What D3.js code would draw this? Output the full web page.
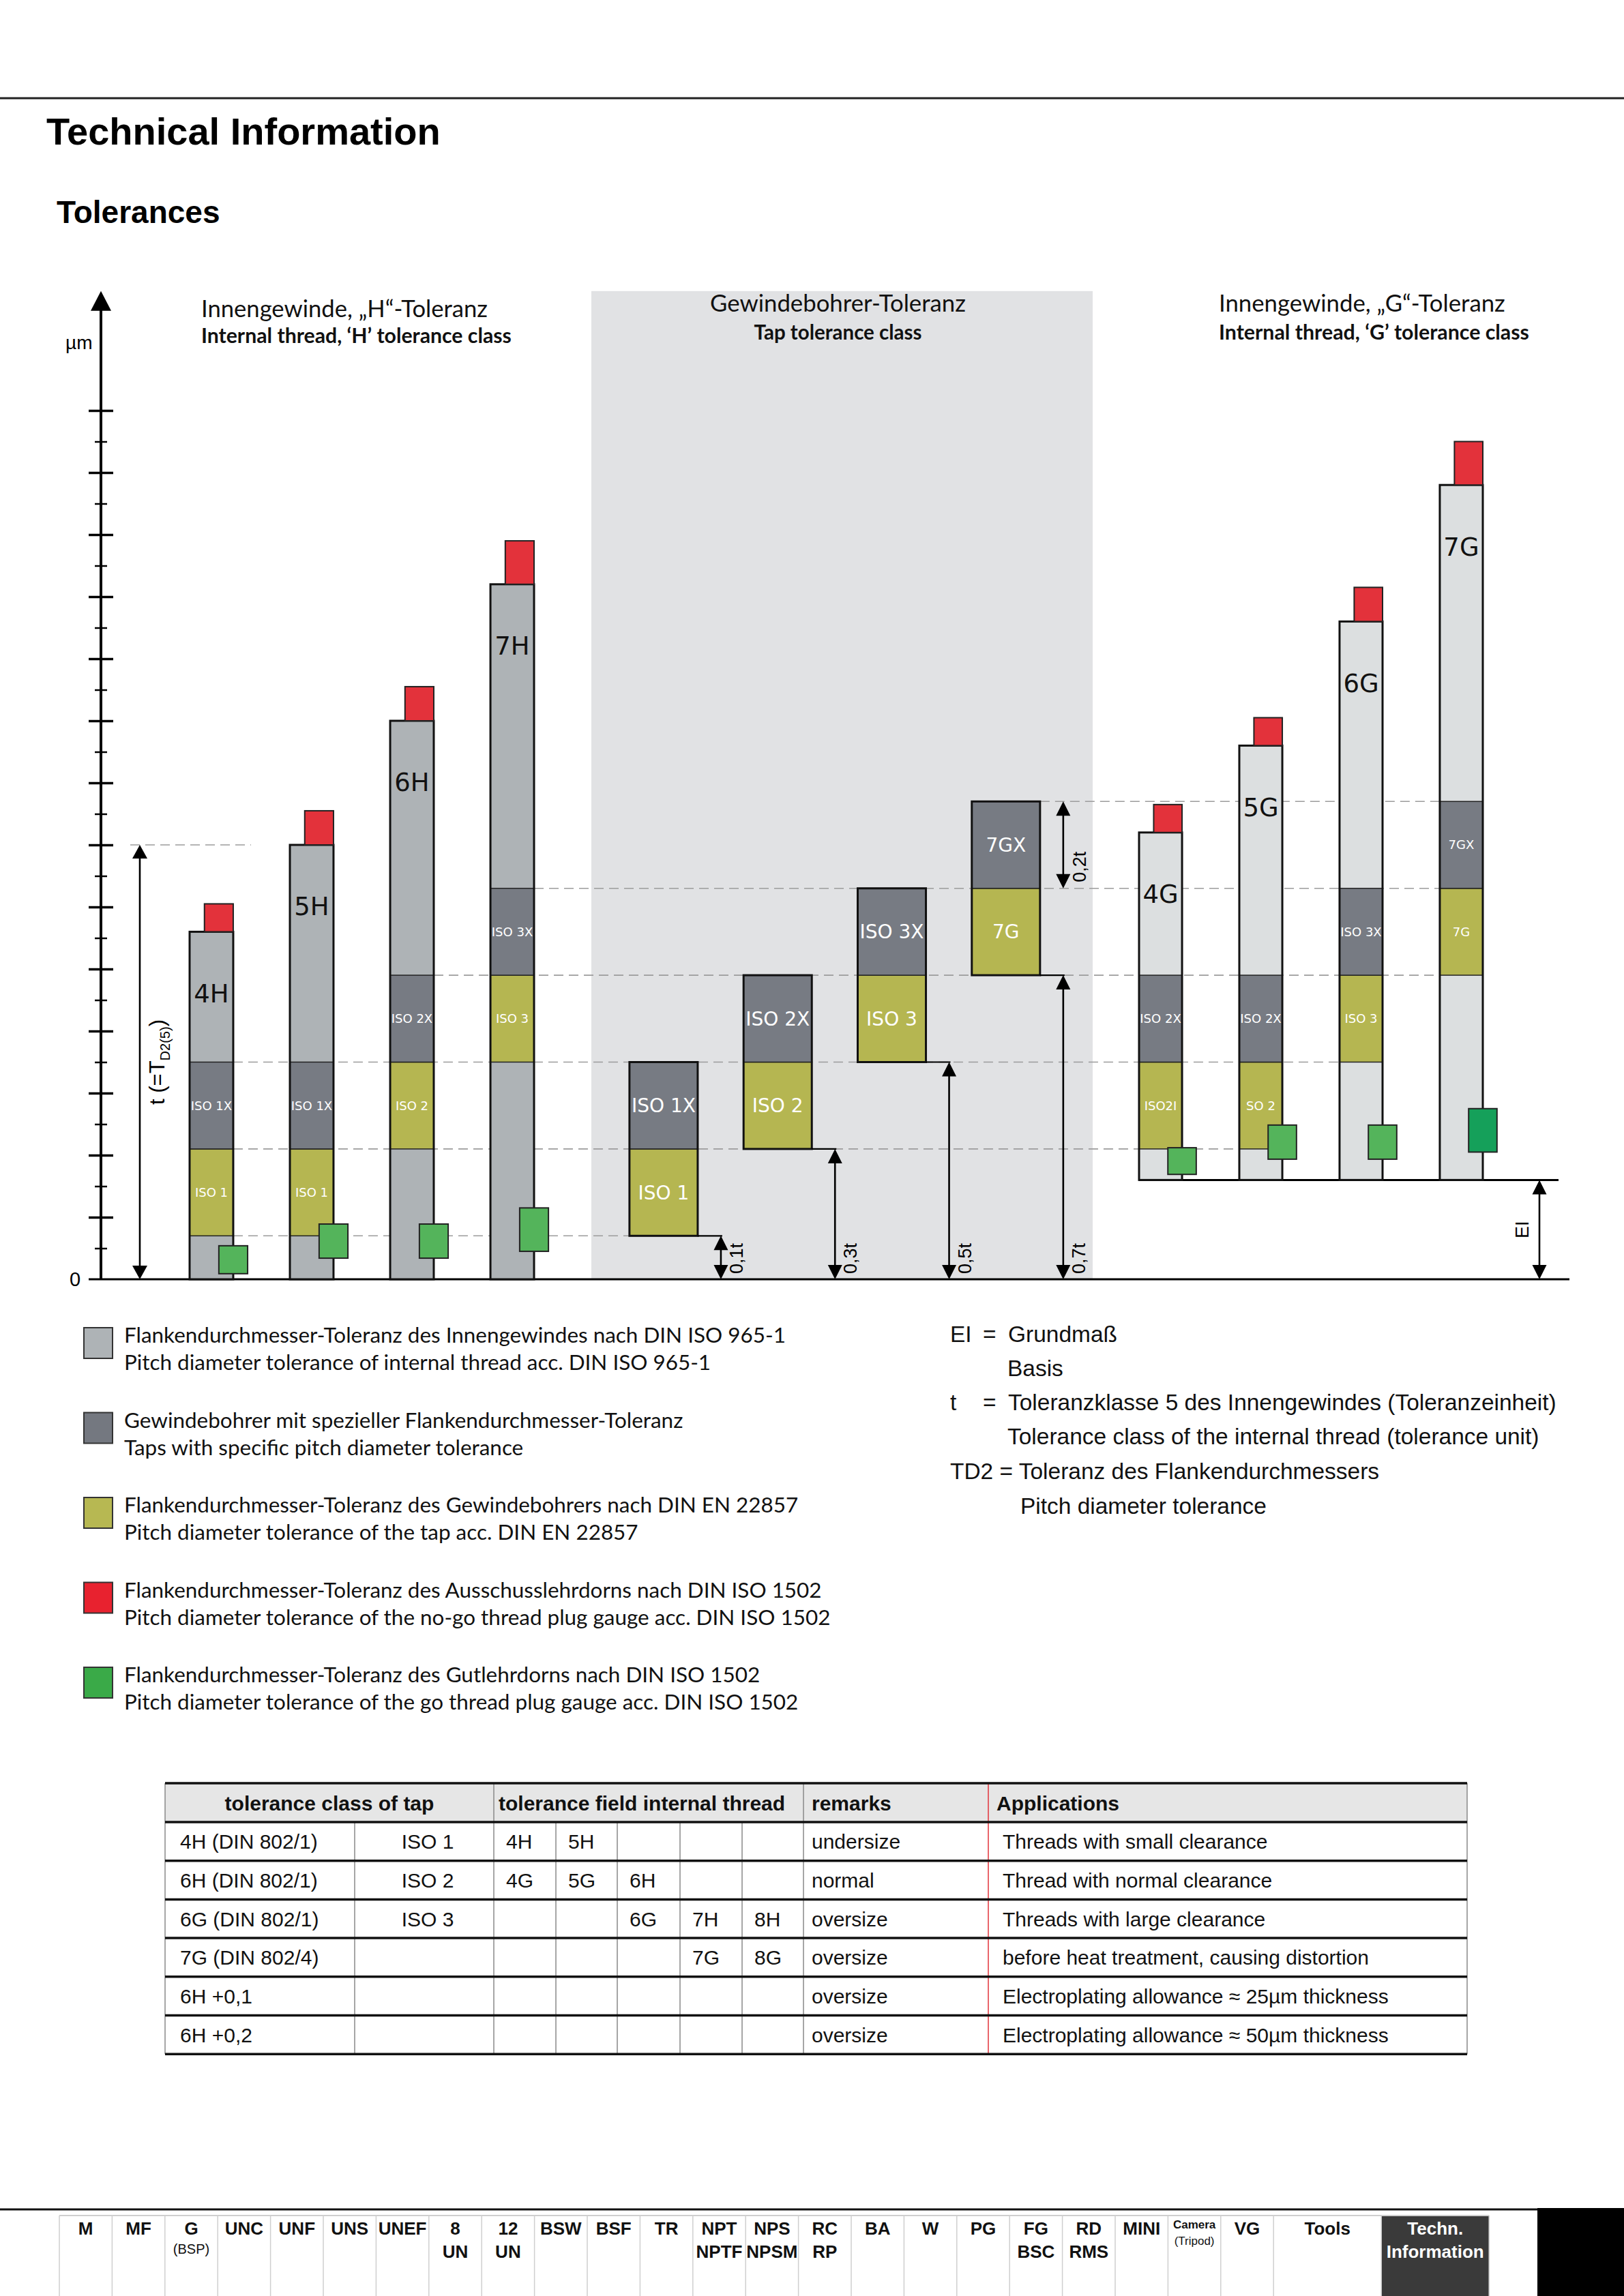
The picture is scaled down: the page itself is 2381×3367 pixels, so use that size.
<!DOCTYPE html>
<html>
<head>
<meta charset="utf-8">
<title>Tolerances</title>
<script src="https://cdn.jsdelivr.net/npm/d3@7"></script>
<style>
  body { margin: 0; background: #fff; }
  svg { display: block; }
</style>
</head>
<body>
<script>
// ---------- data (axis units: t = 14) ----------
const T = 14;      // tolerance unit t
const EI = 3.2;    // basic deviation of the G field

const hClasses = ['4H', '5H', '6H', '7H'];
const hTop = [11.2, 14.0, 18.0, 22.4];
const hTapIdx = [0, 0, 1, 2];
const hTapLabels = ['ISO 1', 'ISO 1', 'ISO 2', 'ISO 3'];
const hTapXLabels = ['ISO 1X', 'ISO 1X', 'ISO 2X', 'ISO 3X'];
const hNoGo = [[11.2, 12.1], [14.0, 15.1], [18.0, 19.1], [22.4, 23.8]];
const hGo = [[0.18, 1.08], [0.68, 1.78], [0.68, 1.78], [0.9, 2.3]];

const gClasses = ['4G', '5G', '6G', '7G'];
const gTop = [14.4, 17.2, 21.2, 25.6];
const gTapIdx = [1, 1, 2, 3];
const gTapLabels = ['ISO2I', 'SO 2', 'ISO 3', '7G'];
const gTapXLabels = ['ISO 2X', 'ISO 2X', 'ISO 3X', '7GX'];
const gNoGo = [[14.4, 15.3], [17.2, 18.1], [21.2, 22.3], [25.6, 27.0]];
const gGo = [[3.38, 4.24], [3.87, 4.97], [3.87, 4.97], [4.1, 5.5]];

const tapClasses = ['ISO 1', 'ISO 2', 'ISO 3', '7G'];
const tapXClasses = ['ISO 1X', 'ISO 2X', 'ISO 3X', '7GX'];
const tapLow = [1.4, 4.2, 7.0, 9.8];
const tapMid = [4.2, 7.0, 9.8, 12.6];
const tapHigh = [7.0, 9.8, 12.6, 15.4];
const tapArrowLabels = ['0,1t', '0,3t', '0,5t', '0,7t'];

const majorTicks = [2, 4, 6, 8, 10, 12, 14, 16, 18, 20, 22, 24, 26, 28];
const minorTicks = [1, 3, 5, 7, 9, 11, 13, 15, 17, 19, 21, 23, 25, 27];

const legendDe = [
  'Flankendurchmesser-Toleranz des Innengewindes nach DIN ISO 965-1',
  'Gewindebohrer mit spezieller Flankendurchmesser-Toleranz',
  'Flankendurchmesser-Toleranz des Gewindebohrers nach DIN EN 22857',
  'Flankendurchmesser-Toleranz des Ausschusslehrdorns nach DIN ISO 1502',
  'Flankendurchmesser-Toleranz des Gutlehrdorns nach DIN ISO 1502'
];
const legendEn = [
  'Pitch diameter tolerance of internal thread acc. DIN ISO 965-1',
  'Taps with specific pitch diameter tolerance',
  'Pitch diameter tolerance of the tap acc. DIN EN 22857',
  'Pitch diameter tolerance of the no-go thread plug gauge acc. DIN ISO 1502',
  'Pitch diameter tolerance of the go thread plug gauge acc. DIN ISO 1502'
];

const keyTerms = ['EI', 't', 'TD2'];
const keyDe = ['Grundmaß', 'Toleranzklasse 5 des Innengewindes (Toleranzeinheit)', 'Toleranz des Flankendurchmessers'];
const keyEn = ['Basis', 'Tolerance class of the internal thread (tolerance unit)', 'Pitch diameter tolerance'];

const tableHead = ['tolerance class of tap', 'tolerance field internal thread', 'remarks', 'Applications'];
const tapClassCol = ['4H (DIN 802/1)', '6H (DIN 802/1)', '6G (DIN 802/1)', '7G (DIN 802/4)', '6H +0,1', '6H +0,2'];
const tapIsoCol = ['ISO 1', 'ISO 2', 'ISO 3', '', '', ''];
const fieldCols = [
  ['4H', '5H', '', '', ''],
  ['4G', '5G', '6H', '', ''],
  ['', '', '6G', '7H', '8H'],
  ['', '', '', '7G', '8G'],
  ['', '', '', '', ''],
  ['', '', '', '', '']
];
const remarksCol = ['undersize', 'normal', 'oversize', 'oversize', 'oversize', 'oversize'];
const applicationsCol = [
  'Threads with small clearance',
  'Thread with normal clearance',
  'Threads with large clearance',
  'before heat treatment, causing distortion',
  'Electroplating allowance ≈ 25µm thickness',
  'Electroplating allowance ≈ 50µm thickness'
];

const navTop = ['M', 'MF', 'G', 'UNC', 'UNF', 'UNS', 'UNEF', '8', '12', 'BSW', 'BSF', 'TR', 'NPT', 'NPS', 'RC', 'BA', 'W', 'PG', 'FG', 'RD', 'MINI', 'Camera', 'VG', 'Tools', 'Techn.'];
const navBottom = ['', '', '(BSP)', '', '', '', '', 'UN', 'UN', '', '', '', 'NPTF', 'NPSM', 'RP', '', '', '', 'BSC', 'RMS', '', '(Tripod)', '', '', 'Information'];

// ---------- styles ----------
const C = {
  light: '#aeb3b6', dark: '#777b83', olive: '#b5b651', red: '#e3323b',
  green: '#54b45b', green2: '#15a05a', gLight: '#dcdfe0', band: '#e1e2e4', guide: '#9c9c9c'
};
const fontArial = '"Liberation Sans", Arial, sans-serif';
const fontMyriad = 'Lato, "Open Sans", sans-serif';
const fontChart = '"DejaVu Sans", sans-serif';

const width = 2381, height = 3367;
const svg = d3.select('body').append('svg')
  .attr('width', width).attr('height', height);

function fitWidth(sel, w) {
  sel.each(function() {
    const t = d3.select(this);
    const fs = parseFloat(t.attr('font-size'));
    t.attr('font-size', fs * w / this.getComputedTextLength());
  });
}

// ---------- page header ----------
svg.append('line').attr('x1', 0).attr('x2', width).attr('y1', 144).attr('y2', 144)
  .attr('stroke', '#222').attr('stroke-width', 3);
svg.append('text').attr('x', 68).attr('y', 212).attr('font-family', fontArial)
  .attr('font-weight', 'bold').attr('font-size', 56).text('Technical Information');
svg.append('text').attr('x', 83).attr('y', 327).attr('font-family', fontArial)
  .attr('font-weight', 'bold').attr('font-size', 46).text('Tolerances');

// ---------- scales ----------
const chartTop = 31.85;
const y = d3.scaleLinear().domain([0, T]).range([1876, 1239]);
const xH = d3.scaleBand().domain(hClasses).range([278, 783]).paddingInner(0.565);
const xG = d3.scaleBand().domain(gClasses).range([1670, 2174]).paddingInner(0.571);
const xTap = d3.scaleBand().domain(tapClasses).range([867, 1602])
  .paddingInner(0.402).paddingOuter(0.3976).align(0.42);

const chart = svg.append('g');

// tap tolerance background band
chart.append('rect')
  .attr('x', xTap.range()[0]).attr('width', xTap.range()[1] - xTap.range()[0])
  .attr('y', y(chartTop)).attr('height', y(0) - y(chartTop))
  .attr('fill', C.band);

// dashed guide lines
const tArrowX = 205;
const hRight = c => xH(c) + xH.bandwidth();
const guides = [
  { v: T, x1: tArrowX - 14, x2: hRight('4H') + 26 },
  { v: tapLow[0], x1: hRight('4H'), x2: xTap(tapClasses[0]) },
  { v: tapLow[1], x1: hRight('4H'), x2: xG('5G') },
  { v: tapLow[2], x1: hRight('4H'), x2: xG('6G') },
  { v: tapLow[3], x1: hRight('6H'), x2: xG('7G') },
  { v: tapMid[3], x1: hRight('7H'), x2: xG('7G') },
  { v: tapHigh[3], x1: xTap('7G') + xTap.bandwidth(), x2: xG('7G') }
];
chart.append('g').selectAll('line').data(guides).join('line')
  .attr('x1', d => d.x1).attr('x2', d => d.x2)
  .attr('y1', d => y(d.v)).attr('y2', d => y(d.v))
  .attr('stroke', C.guide).attr('stroke-width', 1.6).attr('stroke-dasharray', '14,8');

// ---------- y axis ----------
const axisX = 148;
chart.append('line').attr('x1', axisX).attr('x2', axisX)
  .attr('y1', y(0)).attr('y2', y(chartTop) + 20)
  .attr('stroke', '#000').attr('stroke-width', 4);
chart.append('path')
  .attr('d', `M${axisX},${y(chartTop)} L${axisX - 15},${y(chartTop) + 29} L${axisX + 15},${y(chartTop) + 29} Z`)
  .attr('fill', '#000');

const majorAxis = chart.append('g').attr('transform', `translate(${axisX},0)`)
  .call(d3.axisLeft(y).tickValues(majorTicks).tickSize(18).tickFormat(''));
majorAxis.select('.domain').remove();
majorAxis.selectAll('.tick line').attr('x1', 18).attr('stroke-width', 3.5);

const minorAxis = chart.append('g').attr('transform', `translate(${axisX},0)`)
  .call(d3.axisLeft(y).tickValues(minorTicks).tickSize(9).tickFormat(''));
minorAxis.select('.domain').remove();
minorAxis.selectAll('.tick line').attr('x1', 9).attr('stroke-width', 2.5);

chart.append('text').attr('x', 96).attr('y', 512).attr('font-family', fontArial)
  .attr('font-size', 28).text('µm');
chart.append('text').attr('x', 110).attr('y', y(0)).attr('dy', '0.36em')
  .attr('text-anchor', 'middle').attr('font-family', fontArial).attr('font-size', 29).text('0');

// baselines
chart.append('line').attr('x1', 130).attr('x2', 2301).attr('y1', y(0)).attr('y2', y(0))
  .attr('stroke', '#000').attr('stroke-width', 3);
chart.append('line').attr('x1', xG('4G')).attr('x2', 2285).attr('y1', y(EI)).attr('y2', y(EI))
  .attr('stroke', '#000').attr('stroke-width', 3);

// ---------- arrows ----------
function vArrow(x, v0, v1, hw, hh) {
  const a = chart.append('g');
  const yb = y(v0), yt = y(v1);
  a.append('line').attr('x1', x).attr('x2', x).attr('y1', yb - 4).attr('y2', yt + 4)
    .attr('stroke', '#000').attr('stroke-width', 2.6);
  a.append('path').attr('d', `M${x},${yt} L${x - hw / 2},${yt + hh} L${x + hw / 2},${yt + hh} Z`);
  a.append('path').attr('d', `M${x},${yb} L${x - hw / 2},${yb - hh} L${x + hw / 2},${yb - hh} Z`);
  return a;
}

vArrow(tArrowX, 0, T, 22, 20);
chart.append('text')
  .attr('transform', `translate(241,${y(T / 2)}) rotate(-90)`)
  .attr('text-anchor', 'middle').attr('font-family', fontArial).attr('font-size', 31)
  .call(t => {
    t.append('tspan').text('t  (=T');
    t.append('tspan').attr('font-size', 20).attr('dy', 8).text('D2(5)');
    t.append('tspan').attr('dy', -8).text(')');
  });

// ---------- columns ----------
function drawColumn(names, xs, tops, base, idx, loLabels, hiLabels, lightFill, segFont, noGo, go) {
  const bw = xs.bandwidth();
  const data = names.map((n, i) => ({
    name: n, x: xs(n), top: tops ? tops[i] : tapHigh[idx[i]], k: idx[i],
    lo: loLabels[i], hi: hiLabels[i], i: i
  }));
  const g = chart.append('g');
  const col = g.selectAll('g').data(data).join('g');

  if (tops) {
    col.append('rect')
      .attr('x', d => d.x).attr('width', bw)
      .attr('y', d => y(d.top)).attr('height', d => y(base) - y(d.top))
      .attr('fill', lightFill);
  }
  col.append('rect')
    .attr('x', d => d.x).attr('width', bw)
    .attr('y', d => y(tapMid[d.k])).attr('height', d => y(tapLow[d.k]) - y(tapMid[d.k]))
    .attr('fill', C.olive).attr('stroke', '#222').attr('stroke-width', 1.5);
  col.append('rect')
    .attr('x', d => d.x).attr('width', bw)
    .attr('y', d => y(tapHigh[d.k])).attr('height', d => y(tapMid[d.k]) - y(tapHigh[d.k]))
    .attr('fill', C.dark).attr('stroke', '#222').attr('stroke-width', 1.5);
  // outline
  col.append('rect')
    .attr('x', d => d.x).attr('width', bw)
    .attr('y', d => y(d.top)).attr('height', d => y(tops ? base : tapLow[d.k]) - y(d.top))
    .attr('fill', 'none').attr('stroke', '#111').attr('stroke-width', 3);

  col.append('text')
    .attr('x', d => d.x + bw / 2).attr('y', d => y((tapLow[d.k] + tapMid[d.k]) / 2))
    .attr('dy', '0.36em').attr('text-anchor', 'middle')
    .attr('font-family', fontChart).attr('font-size', segFont).attr('fill', '#fff')
    .text(d => d.lo);
  col.append('text')
    .attr('x', d => d.x + bw / 2).attr('y', d => y((tapMid[d.k] + tapHigh[d.k]) / 2))
    .attr('dy', '0.36em').attr('text-anchor', 'middle')
    .attr('font-family', fontChart).attr('font-size', segFont).attr('fill', '#fff')
    .text(d => d.hi);

  if (tops) {
    col.append('text')
      .attr('x', d => d.x + bw / 2).attr('y', d => y(d.top) + 90)
      .attr('dy', '0.36em').attr('text-anchor', 'middle')
      .attr('font-family', fontChart).attr('font-size', 37).attr('fill', '#111')
      .text(d => d.name);
    const gw = bw * 0.66;
    // no-go gauge (red)
    col.append('rect')
      .attr('x', d => d.x + bw - gw).attr('width', gw)
      .attr('y', d => y(noGo[d.i][1])).attr('height', d => y(noGo[d.i][0]) - y(noGo[d.i][1]))
      .attr('fill', C.red).attr('stroke', '#222').attr('stroke-width', 2);
    // go gauge (green)
    col.append('rect')
      .attr('x', d => d.x + bw - gw / 2).attr('width', gw)
      .attr('y', d => y(go[d.i][1])).attr('height', d => y(go[d.i][0]) - y(go[d.i][1]))
      .attr('fill', d => d.name === '7G' ? C.green2 : C.green)
      .attr('stroke', '#222').attr('stroke-width', 2);
  }
  return g;
}

drawColumn(hClasses, xH, hTop, 0, hTapIdx, hTapLabels, hTapXLabels, C.light, 18, hNoGo, hGo);
drawColumn(tapClasses, xTap, null, 0, [0, 1, 2, 3], tapClasses, tapXClasses, null, 28, null, null);
drawColumn(gClasses, xG, gTop, EI, gTapIdx, gTapLabels, gTapXLabels, C.gLight, 18, gNoGo, gGo);

// tap offset steps and arrows
tapClasses.forEach((c, i) => {
  const xr = xTap(c) + xTap.bandwidth();
  const ax = xr + 34;
  chart.append('line').attr('x1', xr).attr('x2', ax + 2)
    .attr('y1', y(tapLow[i])).attr('y2', y(tapLow[i]))
    .attr('stroke', '#000').attr('stroke-width', 2.2);
  vArrow(ax, 0, tapLow[i], 21, 21);
  chart.append('text')
    .attr('transform', `translate(${ax + 32},${y(0) - 8}) rotate(-90)`)
    .attr('font-family', fontArial).attr('font-size', 27).text(tapArrowLabels[i]);
});
{
  const ax = xTap('7G') + xTap.bandwidth() + 34;
  vArrow(ax, tapMid[3], tapHigh[3], 21, 21);
  chart.append('text')
    .attr('transform', `translate(${ax + 33},${y(tapMid[3]) - 9}) rotate(-90)`)
    .attr('font-family', fontArial).attr('font-size', 27).text('0,2t');
}
// EI arrow
vArrow(2257, 0, EI, 21, 21);
chart.append('text')
  .attr('transform', `translate(2241,${y(EI / 2)}) rotate(-90)`)
  .attr('text-anchor', 'middle').attr('font-family', fontArial).attr('font-size', 27).text('EI');

// ---------- column titles ----------
function title(x, y1, y2, de, en, anchor, w1, w2) {
  const t1 = svg.append('text').attr('x', x).attr('y', y1).attr('text-anchor', anchor)
    .attr('font-family', fontMyriad).attr('font-size', 36).attr('fill', '#111').text(de);
  const t2 = svg.append('text').attr('x', x).attr('y', y2).attr('text-anchor', anchor)
    .attr('font-family', fontMyriad).attr('font-weight', 'bold').attr('font-size', 30).attr('fill', '#111').text(en);
  fitWidth(t1, w1);
  fitWidth(t2, w2);
}
title(295, 465, 503, 'Innengewinde, „H“-Toleranz', 'Internal thread, ‘H’ tolerance class', 'start', 420, 455);
title((xTap.range()[0] + xTap.range()[1]) / 2 - 6, 457, 498, 'Gewindebohrer-Toleranz', 'Tap tolerance class', 'middle', 375, 246);
title(1787, 457, 498, 'Innengewinde, „G“-Toleranz', 'Internal thread, ‘G’ tolerance class', 'start', 420, 455);

// ---------- legend ----------
const legendColors = ['#aeb3b6', '#747880', '#b7b852', '#e8222f', '#3aaa48'];
const ly = d3.scaleBand().domain(d3.range(legendDe.length)).range([1947, 1947 + 5 * 124.5]);
const legend = svg.append('g');
const li = legend.selectAll('g').data(legendDe).join('g')
  .attr('transform', (d, i) => `translate(0,${ly(i)})`);
li.append('rect').attr('x', 123).attr('y', 0).attr('width', 42).attr('height', 45)
  .attr('fill', (d, i) => legendColors[i]).attr('stroke', '#333').attr('stroke-width', 2);
const deText = li.append('text').attr('x', 182).attr('y', 22)
  .attr('font-family', fontMyriad).attr('font-size', 30).attr('fill', '#111').text(d => d);
const enText = li.append('text').attr('x', 182).attr('y', 62)
  .attr('font-family', fontMyriad).attr('font-size', 30).attr('fill', '#111').text((d, i) => legendEn[i]);
{
  const len = deText.node().getComputedTextLength();
  const fs = 30 * 970 / len;
  deText.attr('font-size', fs);
  enText.attr('font-size', fs);
}

// key on the right
const key = svg.append('g').attr('font-family', fontArial).attr('font-size', 30).attr('fill', '#111');
const keyRows = [1968, 2068, 2169];
keyTerms.forEach((term, i) => {
  if (term === 'TD2') {
    key.append('text').attr('x', 1393).attr('y', keyRows[i]).text(term + ' = ' + keyDe[i]);
    key.append('text').attr('x', 1496).attr('y', keyRows[i] + 51).text(keyEn[i]);
  } else {
    key.append('text').attr('x', 1393).attr('y', keyRows[i]).text(term);
    key.append('text').attr('x', 1441).attr('y', keyRows[i]).text('=');
    key.append('text').attr('x', 1478).attr('y', keyRows[i]).text(keyDe[i]);
    key.append('text').attr('class', 'ref').attr('x', 1477).attr('y', keyRows[i] + 50).text(keyEn[i]);
  }
});
{
  // scale the key so the longest English line matches the reference width
  const ref = key.selectAll('text.ref').filter((d, i) => i === 1).node();
  key.attr('font-size', 30 * 780 / ref.getComputedTextLength());
}

// ---------- table ----------
const tx = [242, 520, 724, 815, 905, 997, 1088, 1178, 1449, 2151];
const tableTop = 2615, headH = 57, rowH = 56.7;
const rowY = d3.scaleLinear().domain([0, 1]).range([tableTop + headH, tableTop + headH + rowH]);
const nRows = tapClassCol.length;
const tbl = svg.append('g').attr('font-family', fontArial).attr('font-size', 30).attr('fill', '#111');

tbl.append('rect').attr('x', tx[0]).attr('y', tableTop).attr('width', tx[9] - tx[0]).attr('height', headH)
  .attr('fill', '#e6e6e6');
// vertical lines
const bodyTop = rowY(0), bodyBottom = rowY(nRows);
[tx[0], tx[2], tx[7], tx[9]].forEach(x => tbl.append('line')
  .attr('x1', x).attr('x2', x).attr('y1', tableTop).attr('y2', bodyBottom)
  .attr('stroke', '#888').attr('stroke-width', 1.5));
[tx[1], tx[3], tx[4], tx[5], tx[6]].forEach(x => tbl.append('line')
  .attr('x1', x).attr('x2', x).attr('y1', bodyTop).attr('y2', bodyBottom)
  .attr('stroke', '#888').attr('stroke-width', 1.5));
tbl.append('line').attr('x1', tx[8]).attr('x2', tx[8]).attr('y1', tableTop).attr('y2', bodyBottom)
  .attr('stroke', '#e2323a').attr('stroke-width', 1.5);
// horizontal lines
d3.range(nRows + 1).forEach(i => tbl.append('line')
  .attr('x1', tx[0]).attr('x2', tx[9]).attr('y1', rowY(i)).attr('y2', rowY(i))
  .attr('stroke', '#111').attr('stroke-width', 3.5));
tbl.append('line').attr('x1', tx[0]).attr('x2', tx[9]).attr('y1', tableTop).attr('y2', tableTop)
  .attr('stroke', '#111').attr('stroke-width', 3.5);

// header
const hy = tableTop + headH / 2 + 11;
const head = tbl.append('g').attr('font-weight', 'bold');
head.append('text').attr('x', (tx[0] + tx[2]) / 2).attr('y', hy).attr('text-anchor', 'middle').text(tableHead[0]);
head.append('text').attr('x', tx[2] + 7).attr('y', hy).text(tableHead[1]);
head.append('text').attr('x', tx[7] + 12).attr('y', hy).text(tableHead[2]);
head.append('text').attr('x', tx[8] + 12).attr('y', hy).text(tableHead[3]);

// body
const rows = tbl.selectAll('g.row').data(tapClassCol).join('g').attr('class', 'row')
  .attr('transform', (d, i) => `translate(0,${rowY(i) + rowH / 2 + 11})`);
rows.append('text').attr('x', tx[0] + 22).text(d => d);
rows.append('text').attr('x', (tx[1] + tx[2]) / 2 + 5).attr('text-anchor', 'middle').text((d, i) => tapIsoCol[i]);
rows.each(function(d, i) {
  d3.select(this).selectAll('text.f').data(fieldCols[i]).join('text').attr('class', 'f')
    .attr('x', (f, j) => tx[2 + j] + 18).text(f => f);
});
rows.append('text').attr('x', tx[7] + 12).text((d, i) => remarksCol[i]);
rows.append('text').attr('x', tx[8] + 21).text((d, i) => applicationsCol[i]);

// ---------- bottom navigation ----------
const nav = svg.append('g').attr('font-family', fontArial);
const navW = navTop.map((d, i) => i < 23 ? 77.4 : 158);
const navX = [87];
navW.forEach((w, i) => navX.push(navX[i] + w));
nav.append('line').attr('x1', 0).attr('x2', 2254).attr('y1', 3240).attr('y2', 3240)
  .attr('stroke', '#111').attr('stroke-width', 3);
nav.append('rect').attr('x', 2254).attr('y', 3238).attr('width', width - 2254).attr('height', height - 3238)
  .attr('fill', '#000');
nav.append('rect').attr('x', navX[24]).attr('y', 3250).attr('width', navW[24]).attr('height', height - 3250)
  .attr('fill', '#3a3a3a');
nav.append('line').attr('x1', navX[0]).attr('x2', navX[25]).attr('y1', 3249).attr('y2', 3249)
  .attr('stroke', '#cfcfcf').attr('stroke-width', 2);
nav.selectAll('line.sep').data(navX).join('line').attr('class', 'sep')
  .attr('x1', d => d).attr('x2', d => d).attr('y1', 3249).attr('y2', height)
  .attr('stroke', '#cfcfcf').attr('stroke-width', 1.5);
navTop.forEach((lab, i) => {
  const cx = navX[i] + navW[i] / 2;
  const fill = i === 24 ? '#fff' : '#111';
  const small = lab === 'Camera';
  nav.append('text').attr('x', cx).attr('y', small ? 3268 : 3277).attr('text-anchor', 'middle')
    .attr('font-weight', 'bold').attr('font-size', small ? 17 : 26).attr('fill', fill).text(lab);
  const b = navBottom[i];
  if (b) {
    const paren = b.startsWith('(');
    nav.append('text').attr('x', cx).attr('y', paren ? (b === '(Tripod)' ? 3292 : 3305) : 3311)
      .attr('text-anchor', 'middle')
      .attr('font-weight', paren ? 'normal' : 'bold')
      .attr('font-size', paren ? (b === '(Tripod)' ? 17 : 20) : 26)
      .attr('fill', fill).text(b);
  }
});
</script>
</body>
</html>
